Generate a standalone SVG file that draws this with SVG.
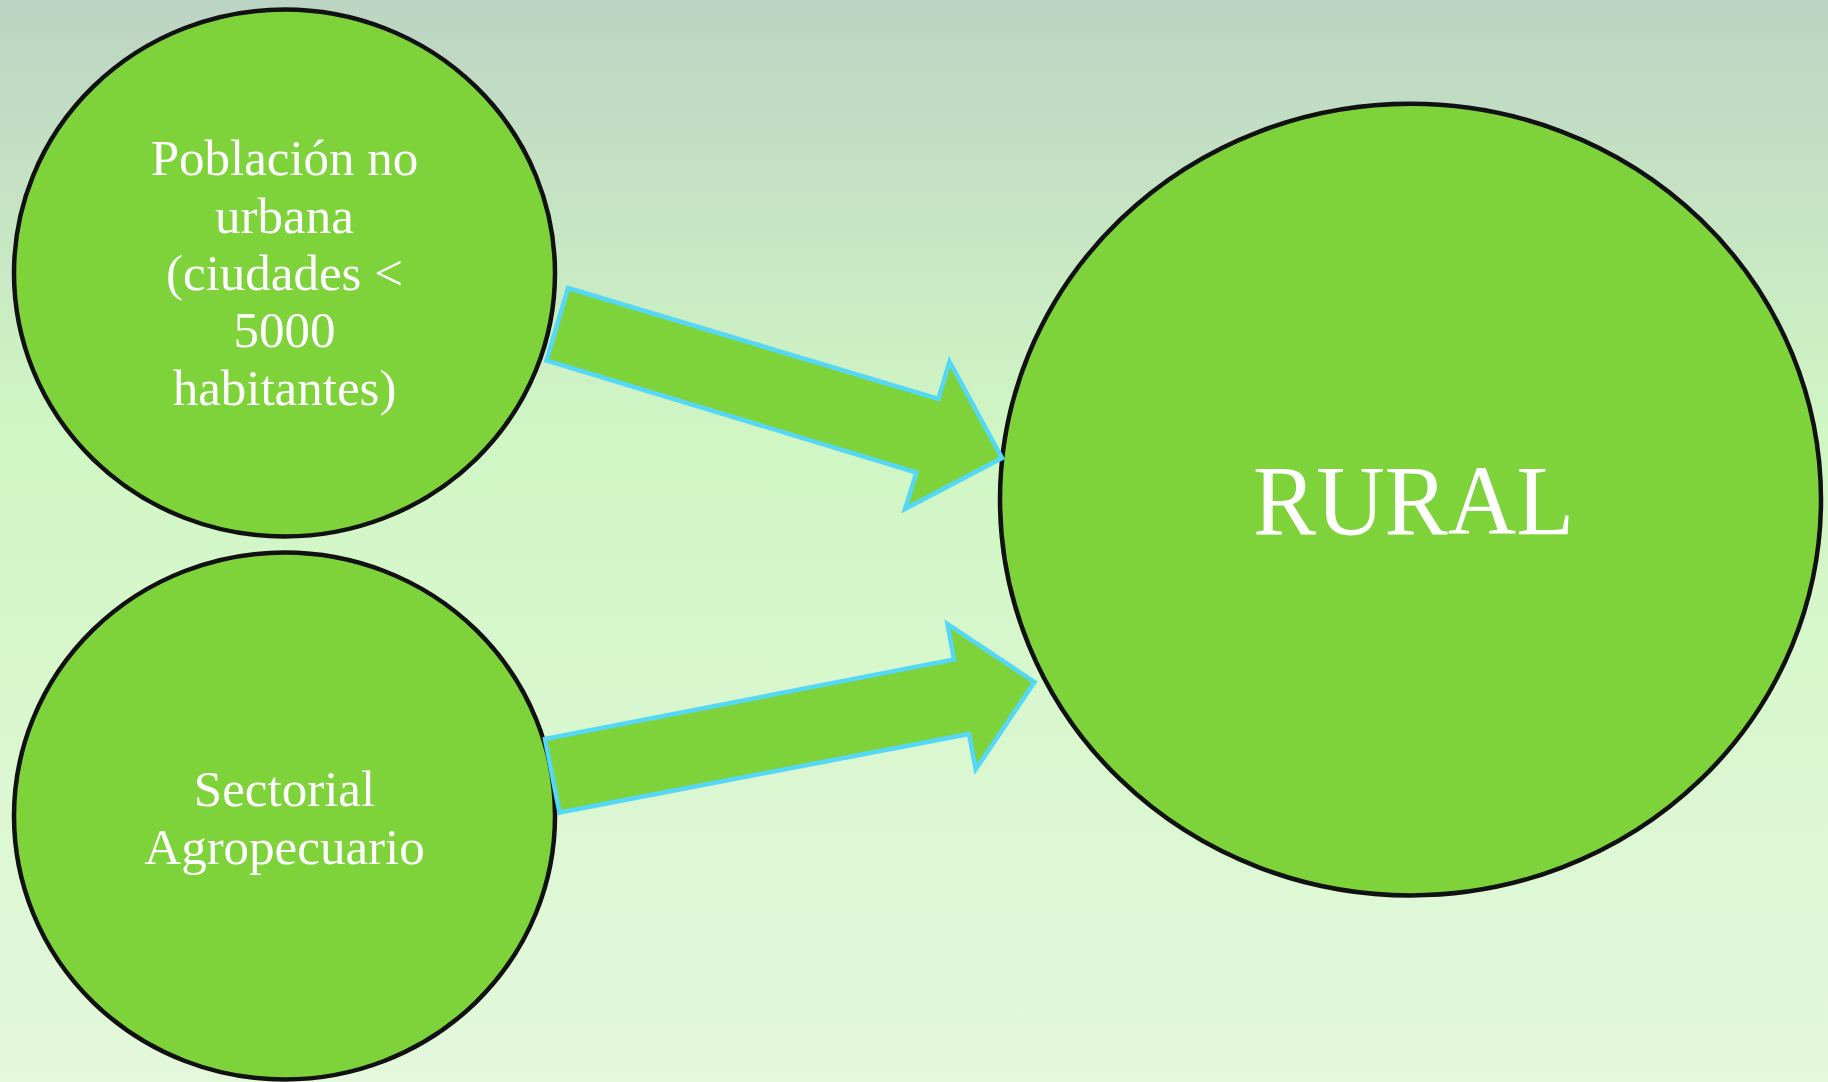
<svg xmlns="http://www.w3.org/2000/svg" width="1828" height="1082" viewBox="0 0 1828 1082">
<defs>
<linearGradient id="bg" x1="0" y1="0" x2="0" y2="1">
<stop offset="0" stop-color="#BCD4C3"/>
<stop offset="0.4" stop-color="#D0F6C4"/>
<stop offset="1" stop-color="#E4F8DC"/>
</linearGradient>
<style>
.node{fill:#7ED33B;stroke:#111111;stroke-width:4.5}
.arrow{fill:#7ED33B;stroke:#55D8F5;stroke-width:4.5;stroke-linejoin:miter}
.lbl{fill:#FFFFFF;font-family:"Liberation Serif","DejaVu Serif",serif;text-anchor:middle}
</style>
</defs>
<rect x="0" y="0" width="1828" height="1082" fill="url(#bg)"/>
<g id="n1">
<ellipse class="node" cx="284.5" cy="273" rx="270.5" ry="263.5"/>
<text class="lbl" font-size="51" x="284.5" y="175">Población no</text>
<text class="lbl" font-size="51" x="284.5" y="233">urbana</text>
<text class="lbl" font-size="51" x="284.5" y="290">(ciudades &lt;</text>
<text class="lbl" font-size="51" x="284.5" y="347">5000</text>
<text class="lbl" font-size="51" x="284.5" y="405">habitantes)</text>
</g>
<g id="n2">
<ellipse class="node" cx="284.5" cy="816" rx="270.5" ry="263.5"/>
<text class="lbl" font-size="51" x="284.5" y="806">Sectorial</text>
<text class="lbl" font-size="51" x="284.5" y="864">Agropecuario</text>
</g>
<g id="n3">
<ellipse class="node" cx="1410.5" cy="499.6" rx="410.5" ry="395.8"/>
<text class="lbl" font-size="100" x="1413.5" y="534" textLength="321" lengthAdjust="spacingAndGlyphs">RURAL</text>
</g>
<g id="connectors">
<polygon class="arrow" points="568,288 938.5,399 949.5,361.5 1002,458 905,509 916.5,472.5 546.5,360.5"/>
<polygon class="arrow" points="545,739 954,659.5 947.5,624 1034.5,682 975.7,769.3 969,734 559.5,812.5"/>
</g>
</svg>
